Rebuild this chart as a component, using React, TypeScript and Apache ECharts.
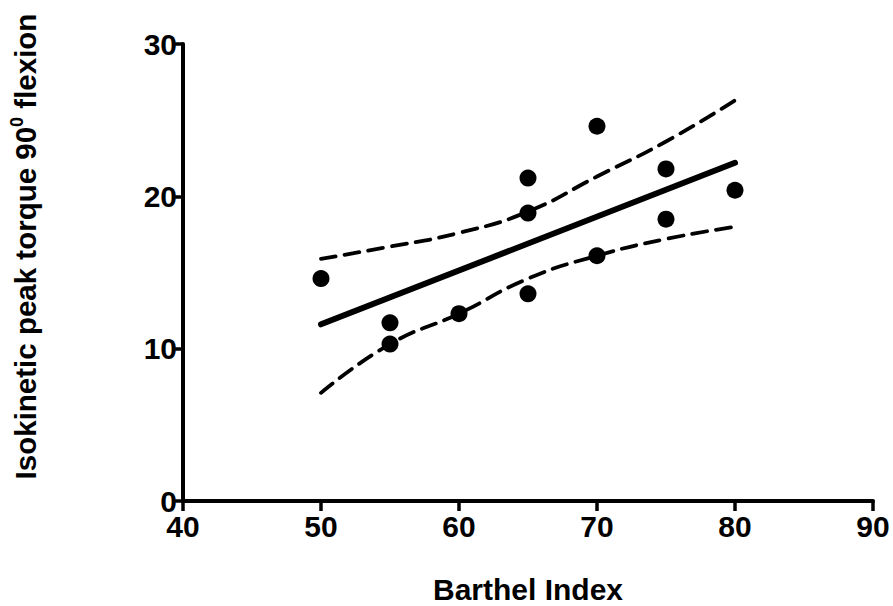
import React, { useEffect, useRef } from "react";
import * as echarts from "echarts";

const xTicks = [40, 50, 60, 70, 80, 90];
const yTicks = [0, 10, 20, 30];

const observations: [number, number][] = [
  [50, 14.6],
  [55, 11.7],
  [55, 10.3],
  [60, 12.3],
  [65, 21.2],
  [65, 18.9],
  [65, 13.6],
  [70, 24.6],
  [70, 16.1],
  [75, 21.8],
  [75, 18.5],
  [80, 20.4],
];

const fitLine: [number, number][] = [
  [50, 11.6],
  [80, 22.2],
];

const bandX = [50, 55, 60, 65, 70, 75, 80];
const upperBand = [15.9, 16.7, 17.6, 19.0, 21.3, 23.6, 26.3];
const lowerBand = [7.1, 10.3, 12.3, 14.6, 16.1, 17.2, 18.0];

const FONT = "'Liberation Sans', Arial, Helvetica, sans-serif";

export default function App() {
  const ref = useRef<HTMLDivElement>(null);
  useEffect(() => {
    if (!ref.current) return;
    const chart = echarts.init(ref.current, null, { renderer: "svg" });
    const axisCommon = {
      axisLine: { show: true, lineStyle: { color: "#000", width: 4 } },
      axisTick: { show: true, inside: false, length: 10, lineStyle: { color: "#000", width: 3.5 } },
      splitLine: { show: false },
      axisLabel: {
        color: "#000",
        fontSize: 30,
        lineHeight: 24,
        fontWeight: "bold" as const,
        fontFamily: FONT,
      },
      nameLocation: "middle" as const,
    };
    chart.setOption({
      animation: false,
      backgroundColor: "#fff",
      grid: {
        left: 183,
        right: 20,
        top: 44,
        bottom: 105,
        containLabel: false,
        outerBoundsMode: "none",
      },
      xAxis: {
        ...axisCommon,
        type: "value",
        min: xTicks[0],
        max: xTicks[xTicks.length - 1],
        interval: 10,
        axisLabel: { ...axisCommon.axisLabel, margin: 13 },
        name: "Barthel Index",
        nameGap: 75,
        nameTextStyle: {
          color: "#000",
          fontSize: 30,
          lineHeight: 26,
          fontWeight: "bold",
          fontFamily: FONT,
        },
      },
      yAxis: {
        ...axisCommon,
        type: "value",
        min: yTicks[0],
        max: yTicks[yTicks.length - 1],
        interval: 10,
        axisLabel: { ...axisCommon.axisLabel, margin: 6 },
        name: "Isokinetic peak torque 90{sup|0} flexion",
        nameGap: 141,
        nameRotate: 90,
        nameTextStyle: {
          color: "#000",
          fontSize: 29.5,
          fontWeight: "bold",
          fontFamily: FONT,
          lineHeight: 34,
          padding: [0, 0, 0, 52],
          rich: {
            sup: {
              fontSize: 18,
              fontWeight: "bold",
              fontFamily: FONT,
              color: "#000",
              verticalAlign: "top",
              lineHeight: 34,
            },
          },
        },
      },
      series: [
        {
          type: "line",
          data: bandX.map((x, i) => [x, upperBand[i]]),
          smooth: true,
          showSymbol: false,
          symbol: "none",
          lineStyle: { color: "#000", width: 3.8, type: [15, 9], cap: "round" },
          z: 2,
        },
        {
          type: "line",
          data: bandX.map((x, i) => [x, lowerBand[i]]),
          smooth: true,
          showSymbol: false,
          symbol: "none",
          lineStyle: { color: "#000", width: 3.8, type: [15, 9], cap: "round" },
          z: 2,
        },
        {
          type: "line",
          data: fitLine,
          symbol: "none",
          lineStyle: { color: "#000", width: 6, cap: "round" },
          z: 3,
        },
        {
          type: "scatter",
          data: observations,
          symbol: "circle",
          symbolSize: 17,
          itemStyle: { color: "#000", opacity: 1 },
          z: 4,
        },
      ],
    });
    return () => chart.dispose();
  }, []);
  return (
    <div
      ref={ref}
      style={{ position: "fixed", left: 0, top: 0, width: 893, height: 606 }}
    />
  );
}
